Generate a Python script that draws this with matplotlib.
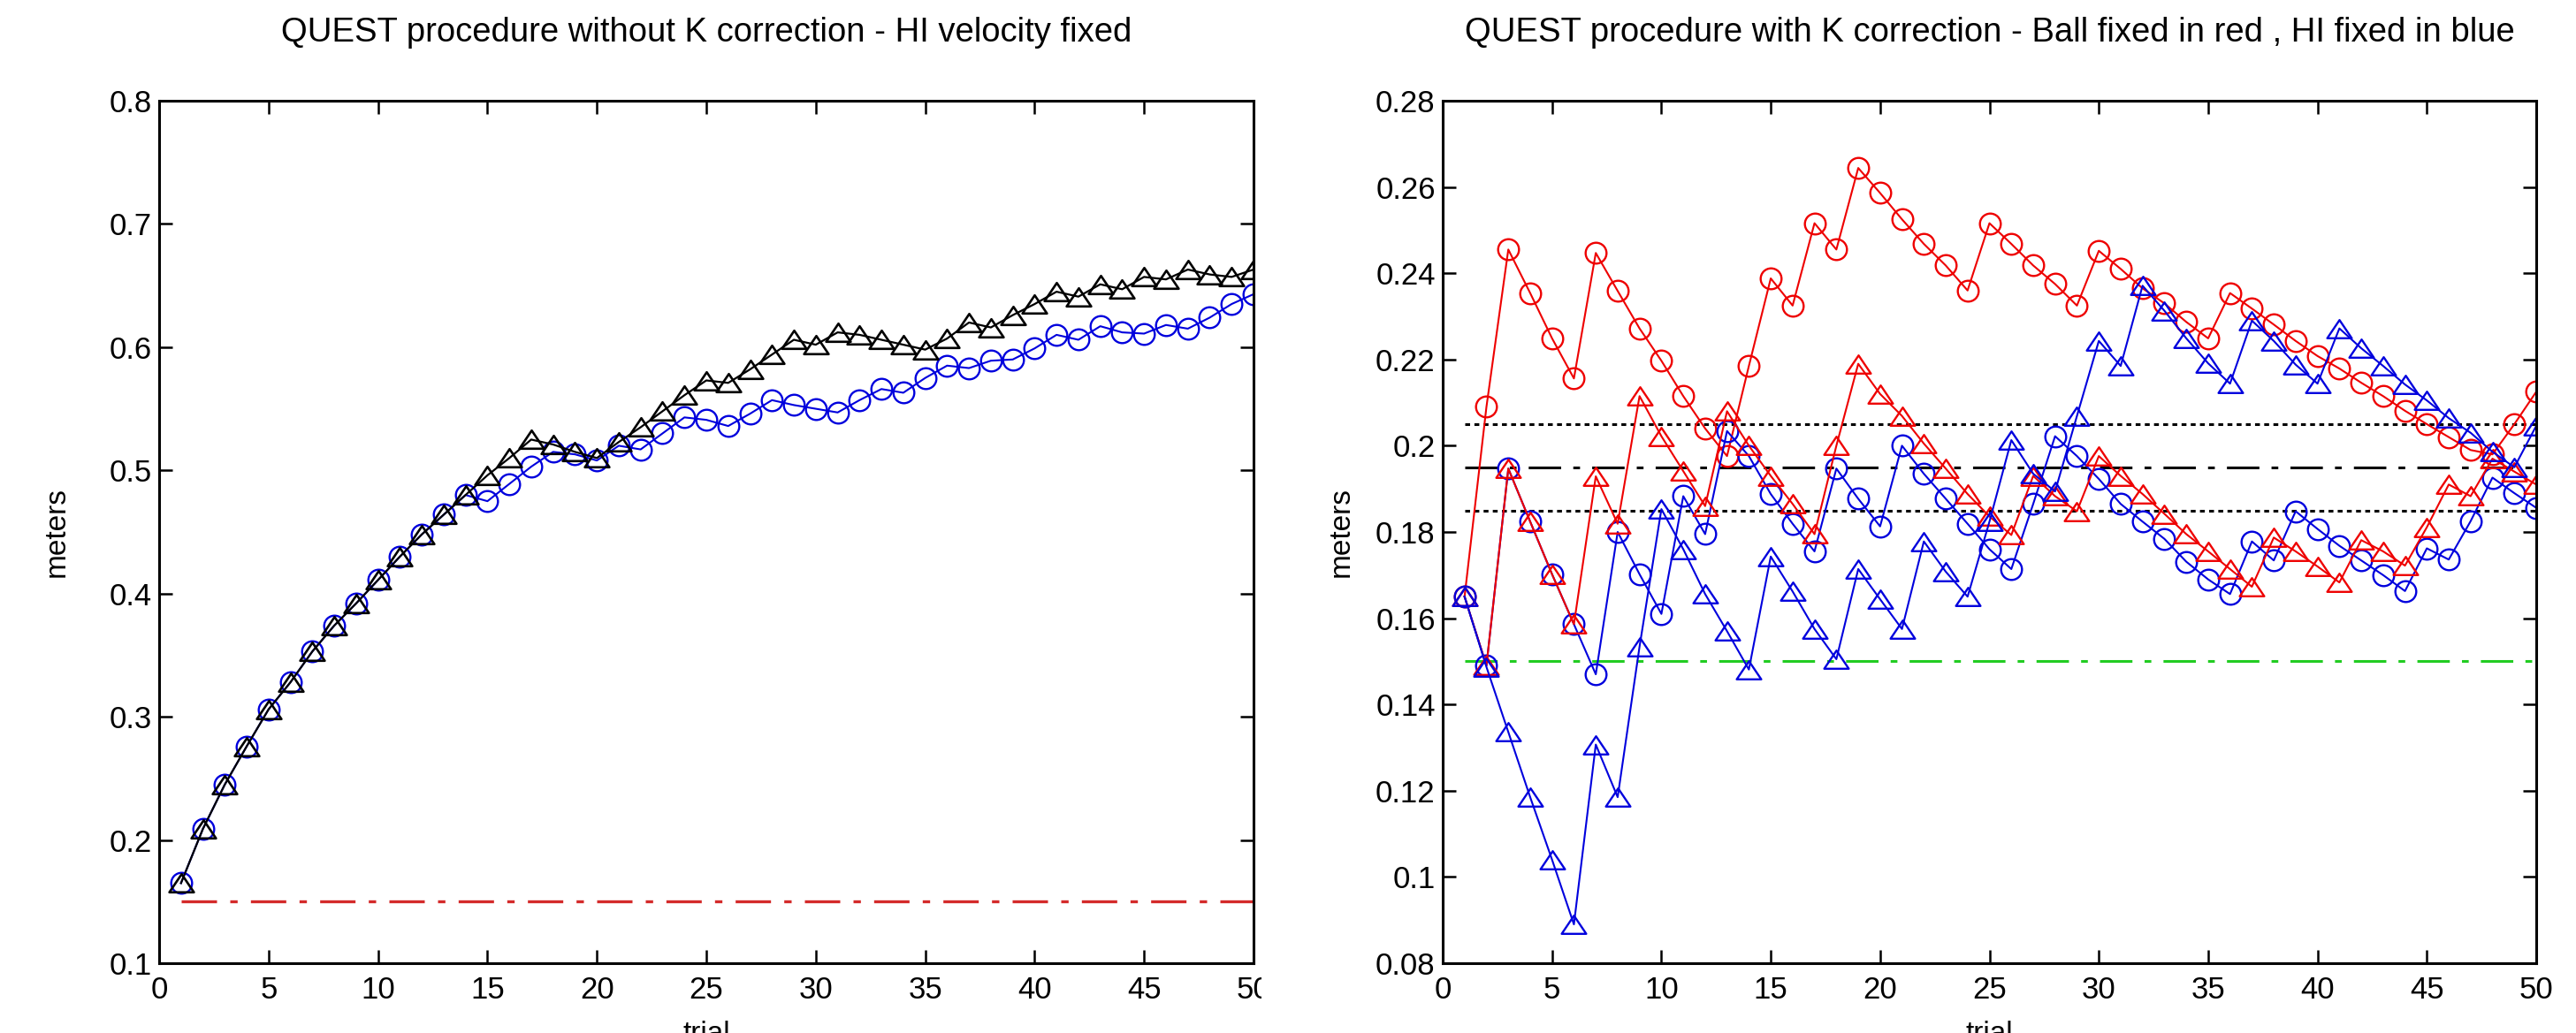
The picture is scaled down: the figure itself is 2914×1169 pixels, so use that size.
import matplotlib
matplotlib.use("Agg")
import matplotlib.pyplot as plt
from matplotlib.ticker import FuncFormatter, MultipleLocator
from matplotlib.patches import Rectangle
from matplotlib.path import Path

plt.rcParams['font.family'] = ['Liberation Sans', 'DejaVu Sans']

## data
trials = list(range(1, 51))

# left panel: without K correction
hi_tri = [0.165, 0.209, 0.245, 0.276, 0.306, 0.328, 0.353, 0.374, 0.392, 0.411,
          0.430, 0.448, 0.464, 0.480, 0.496, 0.510, 0.525, 0.521, 0.515, 0.510,
          0.523, 0.535, 0.548, 0.561, 0.573, 0.571, 0.582, 0.594, 0.606, 0.602,
          0.612, 0.610, 0.606, 0.602, 0.598, 0.607, 0.620, 0.616, 0.626, 0.635,
          0.645, 0.641, 0.651, 0.647, 0.657, 0.655, 0.663, 0.659, 0.657, 0.663]
hi_circ = [0.165, 0.209, 0.245, 0.276, 0.306, 0.328, 0.353, 0.374, 0.392, 0.411,
           0.430, 0.448, 0.464, 0.480, 0.475, 0.489, 0.503, 0.515, 0.513, 0.508,
           0.520, 0.517, 0.530, 0.543, 0.541, 0.536, 0.546, 0.557, 0.553, 0.550,
           0.547, 0.557, 0.566, 0.563, 0.575, 0.585, 0.583, 0.589, 0.590, 0.599,
           0.610, 0.606, 0.617, 0.612, 0.611, 0.618, 0.615, 0.624, 0.635, 0.643]
left_ref = 0.15

# right panel: with K correction
ball_circ = [0.165, 0.209, 0.2455, 0.2354, 0.2249, 0.2156, 0.2447, 0.2359, 0.2272, 0.2197,
             0.2115, 0.2040, 0.1976, 0.2185, 0.2388, 0.2325, 0.2516, 0.2455, 0.2644, 0.2586,
             0.2525, 0.2468, 0.2418, 0.2360, 0.2516, 0.2468, 0.2418, 0.2375, 0.2325, 0.2452,
             0.2410, 0.2365, 0.2330, 0.2287, 0.2249, 0.2354, 0.2318, 0.2281, 0.2243, 0.2208,
             0.2179, 0.2146, 0.2115, 0.2081, 0.2050, 0.2020, 0.1990, 0.1980, 0.2050, 0.2125]
ball_tri = [0.165, 0.149, 0.1947, 0.1824, 0.1702, 0.1586, 0.1929, 0.1819, 0.2115, 0.2022,
            0.1941, 0.1860, 0.2080, 0.2000, 0.1930, 0.1865, 0.1795, 0.2000, 0.2190, 0.2120,
            0.2069, 0.2005, 0.1947, 0.1888, 0.1836, 0.1793, 0.1930, 0.1883, 0.1848, 0.1976,
            0.1930, 0.1888, 0.1842, 0.1795, 0.1755, 0.1714, 0.1673, 0.1787, 0.1755, 0.1720,
            0.1683, 0.1781, 0.1755, 0.1722, 0.1811, 0.1910, 0.1883, 0.1970, 0.1940, 0.1910]
hi_circ_k = [0.165, 0.149, 0.1947, 0.1824, 0.1702, 0.1586, 0.147, 0.180, 0.1702, 0.161,
             0.1883, 0.1795, 0.2034, 0.1976, 0.1888, 0.1819, 0.1755, 0.1947, 0.1877, 0.1813,
             0.2000, 0.1935, 0.1877, 0.1819, 0.1760, 0.1714, 0.1865, 0.2022, 0.1976, 0.1923,
             0.1865, 0.1824, 0.1784, 0.1731, 0.1690, 0.1656, 0.1778, 0.1734, 0.1848, 0.1807,
             0.1768, 0.1734, 0.1700, 0.1663, 0.1762, 0.1736, 0.1825, 0.1926, 0.1890, 0.1856]
hi_tri_k = [0.165, 0.1487, 0.1336, 0.1185, 0.104, 0.089, 0.1307, 0.1185, 0.1534, 0.1853,
            0.1760, 0.1656, 0.1570, 0.1481, 0.1743, 0.1662, 0.1575, 0.1505, 0.1714, 0.1644,
            0.1575, 0.1778, 0.1708, 0.1650, 0.1824, 0.2013, 0.1935, 0.1894, 0.2069, 0.2243,
            0.2185, 0.2371, 0.2313, 0.2249, 0.2191, 0.2144, 0.2290, 0.2243, 0.2188, 0.2144,
            0.2272, 0.2226, 0.2185, 0.2142, 0.2105, 0.2064, 0.2030, 0.1986, 0.1950, 0.2046]
band_hi = 0.205
band_mid = 0.195
band_lo = 0.185
right_ref = 0.15

W, H = 2914, 1169
# matlab-like triangle, a bit wider than tall
tri = Path([(0, 1), (-1.35, -1), (1.35, -1), (0, 1)],
           [Path.MOVETO, Path.LINETO, Path.LINETO, Path.CLOSEPOLY])
dashdot = (0, (12, 4.5, 2.5, 4.5))
dotted = (0, (1.8, 1.6))


def style_axes(ax, ymin, ymax, ystep):
    ax.set_xlim(0, 50)
    ax.set_ylim(ymin, ymax)
    ax.xaxis.set_major_locator(MultipleLocator(5))
    ax.yaxis.set_major_locator(MultipleLocator(ystep))
    ax.yaxis.set_major_formatter(FuncFormatter(lambda v, p: f"{v:.10g}" if abs(v) > 1e-9 else "0"))
    ax.tick_params(direction='in', top=True, right=True, length=11, width=1.8, labelsize=25)
    ax.tick_params(axis='x', pad=10)
    ax.tick_params(axis='y', pad=6)
    for s in ax.spines.values():
        s.set_linewidth(2.2)
    ax.set_xlabel("trial", fontsize=24, labelpad=13)
    ax.set_ylabel("meters", fontsize=24)


fig = plt.figure(figsize=(W / 100, H / 100), dpi=100)
ax1 = fig.add_axes([180 / W, 79 / H, 1238 / W, 976 / H])
ax2 = fig.add_axes([1632 / W, 79 / H, 1237 / W, 976 / H])

# -------- left panel --------
ax1.plot([trials[0], trials[-1]], [left_ref, left_ref], color='#d42a2a', lw=2.4, linestyle=dashdot)
ax1.plot(trials, hi_circ, color='#0000dd', lw=1.5, marker='o', ms=17, mfc='none', mew=1.7)
ax1.plot(trials, hi_tri, color='black', lw=1.6, marker=tri, ms=20, mfc='none', mew=1.9)
style_axes(ax1, 0.1, 0.8, 0.1)
ax1.yaxis.set_label_coords(-100 / 1238, 0.5)
ax1.set_title("QUEST procedure without K correction - HI velocity fixed", fontsize=27.5, pad=48)

# -------- right panel --------
ax2.plot([trials[0], trials[-1]], [band_hi, band_hi], color='black', lw=2.2, linestyle=dotted)
ax2.plot([trials[0], trials[-1]], [band_lo, band_lo], color='black', lw=2.2, linestyle=dotted)
ax2.plot([trials[0], trials[-1]], [band_mid, band_mid], color='black', lw=2.2, linestyle=dashdot)
ax2.plot([trials[0], trials[-1]], [right_ref, right_ref], color='#22cc22', lw=2.2, linestyle=dashdot)
ax2.plot(trials, ball_circ, color='#ee0000', lw=1.5, marker='o', ms=17, mfc='none', mew=1.7)
ax2.plot(trials, hi_circ_k, color='#0000dd', lw=1.5, marker='o', ms=17, mfc='none', mew=1.7)
ax2.plot(trials, ball_tri, color='#ee0000', lw=1.5, marker=tri, ms=20, mfc='none', mew=1.7)
ax2.plot(trials, hi_tri_k, color='#0000dd', lw=1.5, marker=tri, ms=20, mfc='none', mew=1.7)
style_axes(ax2, 0.08, 0.28, 0.02)
ax2.yaxis.set_label_coords(-99 / 1237, 0.5)
ax2.set_title("QUEST procedure with K correction - Ball fixed in red , HI fixed in blue", fontsize=27.5, pad=48)

# the left "50" label is cut off in the original screenshot
fig.add_artist(Rectangle((1427 / W, 0), 60 / W, 80 / H, transform=fig.transFigure,
                         facecolor='white', edgecolor='none', zorder=10))

fig.savefig("out.png", dpi=100)
